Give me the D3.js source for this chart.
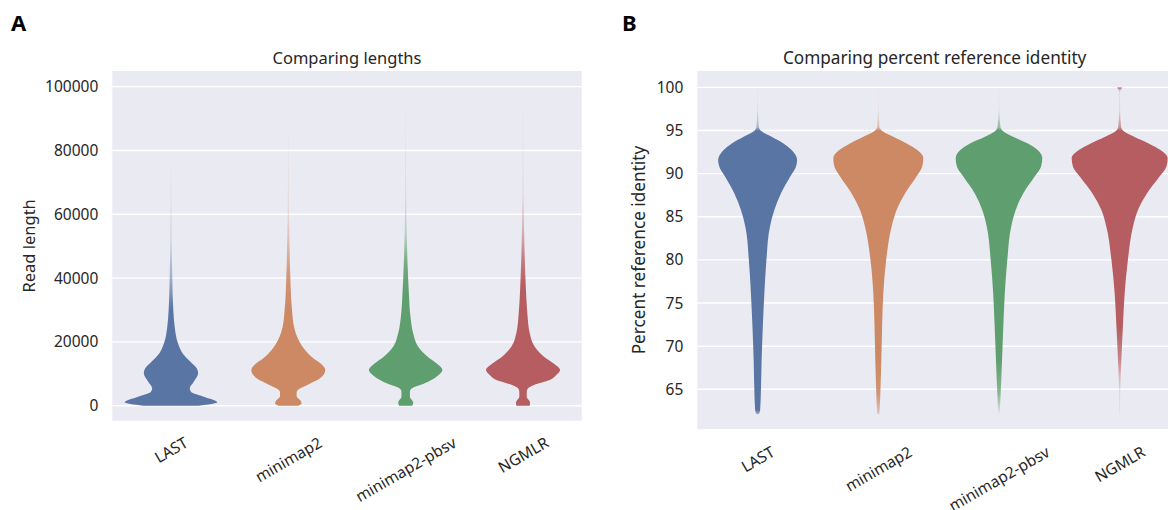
<!DOCTYPE html>
<html>
<head>
<meta charset="utf-8">
<script src="https://cdn.jsdelivr.net/npm/d3@7"></script>
<style>
  body { margin: 0; background: #fff; }
  svg { display: block; font-family: "Noto Sans", "DejaVu Sans", sans-serif; }
</style>
</head>
<body>
<div id="chart"></div>
<script>
const categories = ["LAST", "minimap2", "minimap2-pbsv", "NGMLR"];
const colors = ["#5975a4", "#cc8963", "#5f9e6e", "#b55d60"];

// left panel: read length (y value) and relative density (% of widest)
const lenLAST = [0, 1070, 2820, 4390, 5450, 7520, 10150, 11720, 13800, 16400, 19560, 24770, 30000, 40440, 50900, 61350, 70000, 76000];
const denLAST = [60, 100, 71.3, 43.2, 40.6, 49.2, 58.7, 55.7, 42.1, 25.3, 15.1, 8, 5, 2.8, 1.5, 0.9, 0.4, 0];
const lenMini = [0, 750, 1790, 3000, 4200, 4920, 6490, 8590, 11190, 12760, 14860, 17460, 20600, 24770, 30000, 40440, 50900, 61350, 77000, 87400];
const denMini = [21.6, 28.7, 25.3, 17.9, 17.9, 20.5, 41, 68.5, 79.9, 73.4, 54, 36.1, 22.2, 12.3, 8, 4.3, 2.6, 1.3, 0.5, 0];
const lenPbsv = [0, 1070, 2820, 4390, 5450, 7020, 9090, 11190, 13290, 15360, 18500, 22700, 27900, 35200, 43600, 54000, 66600, 82300, 99500];
const denPbsv = [14.5, 16.2, 9.1, 9.1, 13.6, 41, 66.5, 79.3, 66.5, 47.5, 27, 16.2, 10.4, 6.9, 4.3, 2.2, 1.1, 0.4, 0];
const lenNGMLR = [0, 1070, 2820, 4390, 5450, 6490, 8050, 9620, 11190, 13290, 15360, 18500, 22700, 29000, 37300, 45700, 56100, 66600, 82300, 99500];
const denNGMLR = [14.5, 15.1, 8, 8, 10.8, 23.8, 57.7, 71.9, 79.9, 65.4, 45.4, 25.3, 14.5, 9.3, 6, 3.9, 2.2, 1.1, 0.4, 0];

// right panel: percent reference identity and relative density
const idLAST = [62.1, 62.2, 62.6, 64.54, 68.4, 72.26, 76.13, 79.99, 83.85, 85.78, 87.7, 89.64, 90.8, 91.57, 92.73, 93.5, 94.27, 94.97, 95.4, 97.4, 100];
const dnLAST = [0, 3.1, 5.2, 6.7, 8.3, 10.8, 14, 18.3, 25.6, 34.8, 48.5, 67.7, 79.8, 82.3, 70.8, 53.8, 29.2, 6.7, 2.5, 0.6, 0.1];
const idMini = [62.1, 62.2, 62.6, 64.54, 68.4, 72.26, 76.13, 79.99, 83.85, 85.78, 87.7, 89.64, 90.8, 91.8, 92.73, 93.5, 94.27, 94.97, 95.4, 97.4, 100];
const dnMini = [0, 2.1, 2.7, 4.2, 6.3, 7.9, 10.4, 16.3, 27.7, 38.1, 55.6, 79.2, 91.3, 93.8, 81.3, 59, 31.3, 7.3, 2.5, 0.6, 0.1];
const idPbsv = [62.1, 62.3, 64.54, 68.4, 72.26, 76.13, 79.99, 83.85, 85.78, 87.7, 89.64, 90.8, 91.8, 92.73, 93.5, 94.27, 94.97, 95.4, 97.4, 100];
const dnPbsv = [0, 1, 3.5, 6.3, 9, 12.1, 17.3, 25.4, 34.8, 50.4, 74, 87.5, 90.2, 80.6, 60.4, 29.2, 7.3, 3.1, 0.6, 0.1];
const idNGMLR = [62.1, 62.3, 64.54, 66.5, 68.4, 72.26, 76.13, 79.99, 83.85, 85.78, 87.7, 89.64, 90.8, 91.8, 92.73, 93.5, 94.27, 94.97, 95.4, 97.4, 99.4, 99.7, 100];
const dnNGMLR = [0, 0.4, 1, 2.1, 3.5, 6.7, 10.4, 17.1, 27.7, 38.1, 56.7, 82.7, 97.3, 100, 85, 60.4, 30.2, 7.3, 3.1, 1, 0.8, 2.1, 5.6];

const lenTicks = [0, 20000, 40000, 60000, 80000, 100000];
const idTicks = [65, 70, 75, 80, 85, 90, 95, 100];

const W = 1168, H = 510;
const textColor = "#262626";
const tickSize = 15.5;

const svg = d3.select("#chart").append("svg")
    .attr("width", W)
    .attr("height", H);
const defs = svg.append("defs");

function drawPanel(opt) {
    const x = d3.scaleBand().domain(categories).range(opt.xRange);
    const y = d3.scaleLinear().domain(opt.yDomain).range(opt.yRange);
    const w = d3.scaleLinear().domain([0, 100]).range([0, opt.maxHalf]);
    const g = svg.append("g");

    g.append("rect")
        .attr("x", opt.xRange[0]).attr("y", opt.yRange[1])
        .attr("width", opt.xRange[1] - opt.xRange[0])
        .attr("height", opt.yRange[0] - opt.yRange[1])
        .attr("fill", "#eaeaf2");

    // y axis: grid + labels
    const yAxis = d3.axisLeft(y).tickValues(opt.ticks).tickSize(0).tickPadding(14)
        .tickFormat(d3.format("d"));
    const ya = g.append("g").attr("transform", `translate(${opt.xRange[0]},0)`).call(yAxis);
    ya.select(".domain").remove();
    ya.selectAll("text").attr("font-size", tickSize).attr("fill", textColor)
        .attr("font-family", "Noto Sans");
    g.selectAll(".grid").data(opt.ticks).join("line")
        .attr("x1", opt.xRange[0]).attr("x2", opt.xRange[1])
        .attr("y1", d => y(d)).attr("y2", d => y(d))
        .attr("stroke", "#fff").attr("stroke-width", 1.4);

    // violins
    const area = d3.area()
        .y(d => y(d[0]))
        .x0(d => d[2] - w(d[1]))
        .x1(d => d[2] + w(d[1]))
        .curve(d3.curveMonotoneY);
    opt.series.forEach((s, i) => {
        const cx = x(categories[i]) + x.bandwidth() / 2;
        const pts = s.v.map((v, j) => [v, s.d[j], cx]);
        // thin tails fade out, like the rasterised KDE in the original
        const id = `fade-${opt.letter}-${i}`;
        const y0 = y(s.v[0]), y1 = y(s.v[s.v.length - 1]);
        const grad = defs.append("linearGradient").attr("id", id)
            .attr("gradientUnits", "userSpaceOnUse")
            .attr("x1", 0).attr("x2", 0)
            .attr("y1", y0).attr("y2", y1);
        s.v.forEach((v, j) => {
            const dj = j === 0 ? s.d[1] : s.d[j]; // closed bottom end keeps its colour
            const op = Math.min(1, Math.pow(w(dj) / 2.2, 1.3));
            grad.append("stop")
                .attr("offset", (y(v) - y0) / (y1 - y0))
                .attr("stop-color", colors[i])
                .attr("stop-opacity", Math.max(op, 0.15));
        });
        g.append("path").attr("d", area(pts)).attr("fill", `url(#${id})`);
    });

    // x labels rotated 30 degrees, centered below each category
    categories.forEach(c => {
        const cx = x(c) + x.bandwidth() / 2;
        const t = g.append("text").text(c)
            .attr("font-size", tickSize).attr("fill", textColor)
            .attr("text-anchor", "middle").attr("dominant-baseline", "central");
        const tw = t.node().getComputedTextLength();
        const bh = tw * 0.5 + tickSize * 1.2 * 0.866;
        t.attr("transform", `translate(${cx},${opt.yRange[0] + opt.labelGap + bh / 2}) rotate(-30)`);
    });

    // title
    g.append("text")
        .attr("x", (opt.xRange[0] + opt.xRange[1]) / 2 - opt.titleShift)
        .attr("y", 64)
        .attr("text-anchor", "middle")
        .attr("font-size", opt.labelSize).attr("fill", textColor)
        .text(opt.title);

    // y label
    g.append("text")
        .attr("transform", `translate(${opt.yLabelX},${(opt.yRange[0] + opt.yRange[1]) / 2}) rotate(-90)`)
        .attr("text-anchor", "middle")
        .attr("font-size", opt.labelSize).attr("fill", textColor)
        .text(opt.yLabel);

    // panel letter
    g.append("text")
        .attr("x", opt.letterX).attr("y", 31)
        .attr("font-size", 22).attr("font-weight", "bold").attr("fill", "#000")
        .text(opt.letter);
}

drawPanel({
    xRange: [112.3, 581.7], yRange: [420.7, 71], yDomain: [-4700, 104900],
    maxHalf: 46.3, ticks: lenTicks, labelGap: 12, labelSize: 16.5,
    title: "Comparing lengths", titleShift: 0, yLabel: "Read length", yLabelX: 35,
    letter: "A", letterX: 11,
    series: [
        { v: lenLAST, d: denLAST },
        { v: lenMini, d: denMini },
        { v: lenPbsv, d: denPbsv },
        { v: lenNGMLR, d: denNGMLR }
    ]
});

drawPanel({
    xRange: [697.3, 1180], yRange: [429, 71], yDomain: [60.4, 101.9],
    maxHalf: 48, ticks: idTicks, labelGap: 13, labelSize: 17.2,
    title: "Comparing percent reference identity", titleShift: 4, yLabel: "Percent reference identity", yLabelX: 645,
    letter: "B", letterX: 622,
    series: [
        { v: idLAST, d: dnLAST },
        { v: idMini, d: dnMini },
        { v: idPbsv, d: dnPbsv },
        { v: idNGMLR, d: dnNGMLR }
    ]
});
</script>
</body>
</html>
